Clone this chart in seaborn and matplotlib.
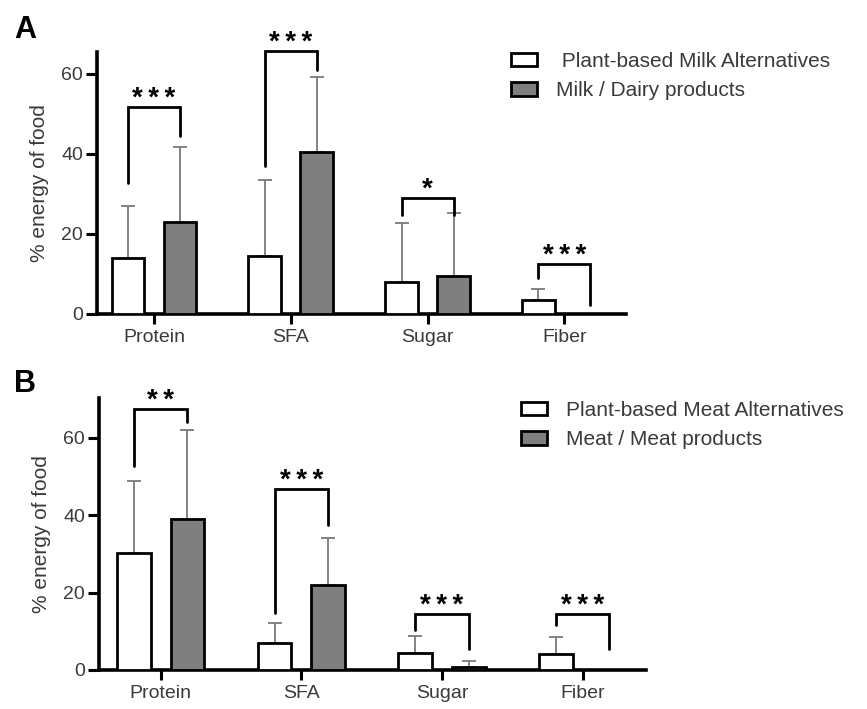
import numpy as np
import pandas as pd
import seaborn as sns
import matplotlib.pyplot as plt
from matplotlib.patches import Patch

sns.set_theme(style="ticks")
plt.rcParams['font.family'] = ['Liberation Sans', 'DejaVu Sans']

nutrients = ["Protein", "SFA", "Sugar", "Fiber"]

# Panel A
groups_a = [" Plant-based Milk Alternatives", "Milk / Dairy products"]
plant_milk_mean = [14.0, 14.5, 8.1, 3.5]
plant_milk_sd = [13.0, 19.0, 14.7, 2.7]
dairy_mean = [23.0, 40.5, 9.6, 0.0]
dairy_sd = [18.7, 18.7, 15.6, 0.0]
sig_a = ["***", "***", "*", "***"]
brk_a_left = [32.75, 37.0, 24.75, 9.0]
brk_a_top = [51.75, 65.75, 29.0, 12.5]
brk_a_right = [44.5, 61.0, 24.75, 2.25]

# Panel B
groups_b = ["Plant-based Meat Alternatives", "Meat / Meat products"]
plant_meat_mean = [30.3, 7.1, 4.3, 4.1]
plant_meat_sd = [18.6, 5.1, 4.6, 4.3]
meat_mean = [39.0, 22.0, 0.9, 0.0]
meat_sd = [23.0, 12.2, 1.4, 0.0]
sig_b = ["**", "***", "***", "***"]
brk_b_left = [52.6, 14.7, 10.3, 11.6]
brk_b_top = [67.4, 46.7, 14.4, 14.4]
brk_b_right = [64.2, 37.5, 5.3, 5.3]

W, H = 867, 709
fig = plt.figure(figsize=(W / 100, H / 100), dpi=100)

def px_axes(x0, x1, y0, y1):
    return fig.add_axes([x0 / W, (H - y1) / H, (x1 - x0) / W, (y1 - y0) / H])

TXT = "#3a3a3a"

def panel(ax, groups, m1, s1, m2, s2, sig, bl, bt, br, ymax, xl, xr, letter, leg_xy):
    df = pd.DataFrame({
        "nutrient": nutrients * 2,
        "group": [groups[0]] * 4 + [groups[1]] * 4,
        "value": list(m1) + list(m2),
    })
    pal = {groups[0]: "white", groups[1]: "#7f7f7f"}
    sns.barplot(data=df, x="nutrient", y="value", hue="group", order=nutrients,
                hue_order=groups, palette=pal, errorbar=None, width=0.76, gap=0.37,
                edgecolor="black", linewidth=2.0, legend=False, ax=ax, zorder=3,
                saturation=1)
    centers = []
    for cont, sds in zip(ax.containers, [s1, s2]):
        cs = []
        for bar, sd in zip(cont, sds):
            cx = bar.get_x() + bar.get_width() / 2
            cs.append(cx)
            if sd > 0:
                ax.errorbar([cx], [bar.get_height()], yerr=[[0], [sd]], fmt="none",
                            ecolor="#7a7a7a", elinewidth=1.3, capsize=5, capthick=1.3,
                            zorder=2)
        centers.append(cs)
    for i in range(4):
        xa, xb = centers[0][i], centers[1][i]
        ax.plot([xa, xa, xb, xb], [bl[i], bt[i], bt[i], br[i]], color="black",
                lw=2.0, solid_joinstyle="miter", clip_on=False, zorder=4)
        ax.annotate("\u2009".join(sig[i]), xy=((xa + xb) / 2, bt[i]), xytext=(0, 1),
                    textcoords="offset points", ha="center", va="baseline",
                    fontsize=20, fontweight="bold", color="black",
                    annotation_clip=False)
    ax.set_ylim(0, ymax)
    ax.set_xlim(xl, xr)
    ax.set_yticks([0, 20, 40, 60])
    ax.set_xlabel("")
    ax.set_ylabel("% energy of food", fontsize=15, color=TXT, labelpad=9)
    sns.despine(ax=ax)
    for s in ["left", "bottom"]:
        ax.spines[s].set_linewidth(2.6)
        ax.spines[s].set_color("black")
    ax.tick_params(axis="y", length=8, width=2.2, color="black", labelsize=14,
                   labelcolor=TXT, pad=2)
    ax.tick_params(axis="x", length=7, width=2.2, color="black", labelsize=14,
                   labelcolor=TXT, pad=4)
    ax.set_facecolor("white")
    fig.text(letter[0] / W, 1 - letter[1] / H, letter[2], fontsize=22,
             fontweight="bold", color="black", ha="left", va="center")
    handles = [Patch(facecolor="white", edgecolor="black", linewidth=2.0, label=groups[0]),
               Patch(facecolor="#7f7f7f", edgecolor="black", linewidth=2.0, label=groups[1])]
    fig.legend(handles=handles, loc="upper left",
               bbox_to_anchor=(leg_xy[0] / W, 1 - leg_xy[1] / H),
               frameon=False, fontsize=15, handlelength=1.25, handleheight=0.6,
               handletextpad=0.9, labelspacing=0.5, borderpad=0, borderaxespad=0,
               labelcolor=TXT)

axA = px_axes(97, 626, 52, 314)
panel(axA, groups_a, plant_milk_mean, plant_milk_sd, dairy_mean, dairy_sd, sig_a,
      brk_a_left, brk_a_top, brk_a_right, 65.5, -0.417, 3.45, (14, 30, "A"), (511, 52))

axB = px_axes(99, 646, 398, 670)
panel(axB, groups_b, plant_meat_mean, plant_meat_sd, meat_mean, meat_sd, sig_b,
      brk_b_left, brk_b_top, brk_b_right, 70.3, -0.4385, 3.45, (14, 384, "B"), (521, 401))

fig.savefig("out.png", dpi=100, facecolor="white")
